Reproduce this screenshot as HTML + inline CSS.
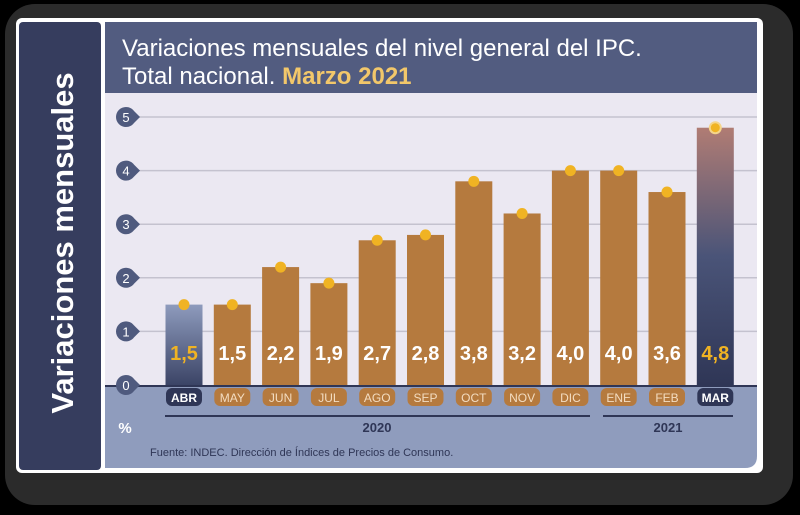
<!DOCTYPE html>
<html><head><meta charset="utf-8"><style>
body{margin:0;background:#000;width:800px;height:510px;overflow:hidden;font-family:"Liberation Sans",sans-serif}
</style></head><body>
<svg width="800" height="510" xmlns="http://www.w3.org/2000/svg">
<defs>
<linearGradient id="gA" x1="0" y1="0" x2="0" y2="1"><stop offset="0" stop-color="#8e9bbd"/><stop offset="1" stop-color="#3b4466"/></linearGradient>
<linearGradient id="gM" x1="0" y1="0" x2="0" y2="1"><stop offset="0" stop-color="#b07c74"/><stop offset="0.5" stop-color="#4a5478"/><stop offset="1" stop-color="#2f3656"/></linearGradient>
</defs>
<rect x="5" y="4" width="788" height="501" rx="30" fill="#2b2b2b"/>
<rect x="16" y="18" width="747" height="455" rx="6" fill="#fff"/>
<rect x="19" y="22" width="82" height="448" rx="4" fill="#363d5e"/>
<text transform="translate(73,243) rotate(-90)" text-anchor="middle" fill="#fff" font-size="31" font-weight="bold">Variaciones mensuales</text>
<rect x="105" y="22" width="652" height="71" fill="#525c80"/>
<text x="122" y="56" fill="#fff" font-size="24">Variaciones mensuales del nivel general del IPC.</text>
<text x="122" y="84" fill="#fff" font-size="24">Total nacional. <tspan fill="#f2c76a" font-weight="bold">Marzo 2021</tspan></text>
<rect x="105" y="93" width="652" height="293" fill="#ebe8f2"/>
<path d="M105 386 H757 V456 Q757 468 745 468 H105 Z" fill="#8f9cbd"/>
<line x1="105" y1="386" x2="757" y2="386" stroke="#2f3656" stroke-width="2"/>
<g id="grid"></g><g id="bars"></g>
<text x="125" y="433" text-anchor="middle" font-size="15" font-weight="bold" fill="#fff">%</text>
<line x1="165" y1="416" x2="590" y2="416" stroke="#2f3656" stroke-width="2"/>
<line x1="603" y1="416" x2="733" y2="416" stroke="#2f3656" stroke-width="2"/>
<text x="377" y="432" text-anchor="middle" font-size="13" font-weight="bold" fill="#2f3656">2020</text>
<text x="668" y="432" text-anchor="middle" font-size="13" font-weight="bold" fill="#2f3656">2021</text>
<text x="150" y="456" font-size="11" fill="#2f3656">Fuente: INDEC. Dirección de Índices de Precios de Consumo.</text>
</svg>
<script>
const categories=["ABR","MAY","JUN","JUL","AGO","SEP","OCT","NOV","DIC","ENE","FEB","MAR"];
const values=[1.5,1.5,2.2,1.9,2.7,2.8,3.8,3.2,4.0,4.0,3.6,4.8];
const labels=["1,5","1,5","2,2","1,9","2,7","2,8","3,8","3,2","4,0","4,0","3,6","4,8"];
const ticks=[0,1,2,3,4,5];
const NS="http://www.w3.org/2000/svg";
const y=v=>385-v*53.6;
const x=i=>184+i*48.3;
function mk(t,a,p){const e=document.createElementNS(NS,t);for(const k in a)e.setAttribute(k,a[k]);p.appendChild(e);return e;}
const grid=document.getElementById('grid'),bars=document.getElementById('bars');
ticks.forEach(t=>{
 if(t>0){const l=mk('line',{x1:126,x2:757,y1:y(t),y2:y(t),stroke:'#c4c2cf','stroke-width':1.5},grid);
 
 }
 const c=mk('path',{d:`M${126-10} ${y(t)} a10 10 0 1 1 20 0 a10 10 0 1 1 -20 0 M132 ${y(t)-8} L140 ${y(t)} L132 ${y(t)+8}Z`,fill:'#4f5a7e'},grid);
 
 
 const tx=mk('text',{x:126,y:y(t)+5,'text-anchor':'middle','font-size':13,fill:'#fff'},grid);tx.textContent=t;
 
 
});
values.forEach((v,i)=>{
 const first=i==0,last=i==values.length-1;
 const b=mk('rect',{x:x(i)-18.5,y:y(v),width:37,height:385-y(v),fill:first?'url(#gA)':last?'url(#gM)':'#b57a3e'},bars);
 
 
 const d=mk('circle',{cx:x(i),cy:y(v),r:5.5,fill:'#f0b323',stroke:last?'#f5d58a':'none','stroke-width':2},bars);
 
 
 const vl=mk('text',{x:x(i),y:360,'text-anchor':'middle','font-size':20,'font-weight':'bold',fill:(first||last)?'#f0b323':'#fff'},bars);vl.textContent=labels[i];
 
 
 const p=mk('rect',{x:x(i)-18,y:388,width:36,height:18,rx:6,fill:(first||last)?'#2f3656':'#b57a3e'},bars);
 
 
 const ml=mk('text',{x:x(i),y:402,'text-anchor':'middle','font-size':12,'font-weight':(first||last)?'bold':'normal',fill:(first||last)?'#fff':'#f3dcc0'},bars);ml.textContent=categories[i];
 
 
});
</script>
</body></html>
